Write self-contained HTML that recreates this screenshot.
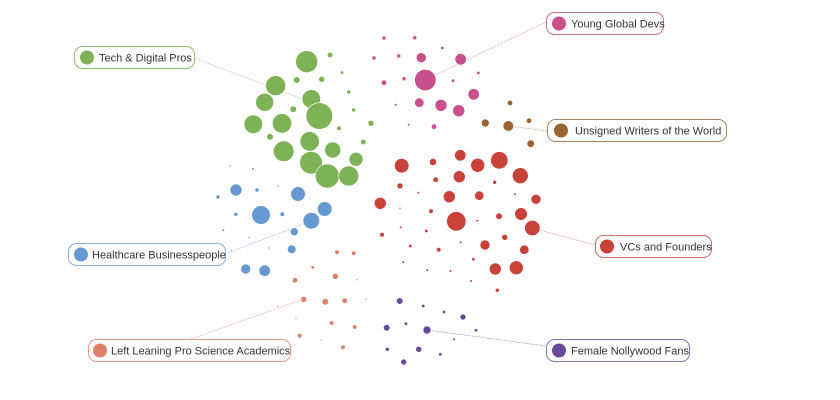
<!DOCTYPE html>
<html><head><meta charset="utf-8"><style>
html,body{margin:0;padding:0;background:#fff;width:840px;height:400px;overflow:hidden}
svg{display:block}
text{font-family:"Liberation Sans",sans-serif;font-size:11px;fill:#333}
</style></head><body>
<svg width="840" height="400" viewBox="0 0 840 400" xmlns="http://www.w3.org/2000/svg">
<g stroke-width="0.8" fill="none" stroke-dasharray="1.5 1">
<line x1="194" y1="58" x2="308" y2="101" stroke="#b5d39e"/>
<line x1="425" y1="80" x2="546" y2="22" stroke="#e0a3c2"/>
<line x1="508" y1="126" x2="547" y2="131" stroke="#c9a888"/>
<line x1="532" y1="228" x2="595" y2="245" stroke="#e39a94"/>
<line x1="225" y1="254" x2="311" y2="221" stroke="#a6c2e6"/>
<line x1="188" y1="340" x2="304" y2="299" stroke="#eeab9c"/>
<line x1="427" y1="330" x2="546" y2="346" stroke="#a795c6"/>
</g>
<g fill="#7db356" stroke="#fff" stroke-width="0.6">
<circle cx="306.7" cy="61.7" r="11"/><circle cx="330" cy="55" r="2.7"/><circle cx="275.7" cy="85.7" r="10"/><circle cx="296.7" cy="80" r="3.3"/><circle cx="321.7" cy="79.3" r="3"/><circle cx="342" cy="72.7" r="1.7"/><circle cx="264.7" cy="102.3" r="9"/><circle cx="311.3" cy="99" r="9.3"/><circle cx="319.3" cy="116" r="13.3"/><circle cx="293.3" cy="109.3" r="3.3"/><circle cx="348.7" cy="92" r="2"/><circle cx="353.7" cy="110" r="2"/><circle cx="253.3" cy="124.3" r="9.3"/><circle cx="282" cy="123.3" r="9.7"/><circle cx="339" cy="128.3" r="2.3"/><circle cx="371" cy="123.3" r="3"/><circle cx="270" cy="136.7" r="3.3"/><circle cx="309.7" cy="141.3" r="9.7"/><circle cx="283.7" cy="151.3" r="10.3"/><circle cx="332.7" cy="150" r="8"/><circle cx="363.3" cy="142" r="2.7"/><circle cx="311" cy="162.7" r="11.3"/><circle cx="356" cy="159.3" r="7"/><circle cx="327.3" cy="176" r="12"/><circle cx="348.7" cy="176" r="10"/>
</g>
<g fill="#6699d1" stroke="#fff" stroke-width="0.6">
<circle cx="230" cy="166" r="1"/><circle cx="253" cy="169" r="1.3"/><circle cx="236" cy="190" r="6"/><circle cx="257" cy="190" r="2"/><circle cx="278" cy="186" r="1"/><circle cx="218" cy="197" r="2"/><circle cx="298" cy="194" r="7.3"/><circle cx="324.7" cy="209" r="7.3"/><circle cx="261" cy="215" r="9.3"/><circle cx="235.7" cy="214.3" r="2"/><circle cx="282.3" cy="214.3" r="2.3"/><circle cx="311.3" cy="220.7" r="8.3"/><circle cx="223.3" cy="230.3" r="1.3"/><circle cx="294.3" cy="231.7" r="4"/><circle cx="249.3" cy="237.7" r="1"/><circle cx="268.7" cy="248" r="1"/><circle cx="231.3" cy="251" r="1"/><circle cx="291.7" cy="249.3" r="4.3"/><circle cx="245.7" cy="269" r="5"/><circle cx="264.7" cy="270.7" r="5.7"/>
</g>
<g fill="#e07f68" stroke="#fff" stroke-width="0.6">
<circle cx="337" cy="252.3" r="2.3"/><circle cx="353.7" cy="253.3" r="2.3"/><circle cx="312.7" cy="267.3" r="1.7"/><circle cx="335.3" cy="276.3" r="3"/><circle cx="295" cy="280.3" r="2.7"/><circle cx="357" cy="279.7" r="1"/><circle cx="303.7" cy="299.3" r="3"/><circle cx="325.3" cy="301.7" r="3.3"/><circle cx="344.7" cy="300.7" r="2.7"/><circle cx="366" cy="299.3" r="1"/><circle cx="278" cy="306.7" r="1"/><circle cx="296" cy="318.3" r="1"/><circle cx="331.7" cy="323" r="2.3"/><circle cx="354.7" cy="327" r="2.3"/><circle cx="299.7" cy="335.7" r="2.3"/><circle cx="321" cy="340.3" r="1"/><circle cx="343" cy="347.3" r="2.3"/>
</g>
<g fill="#c94f8d" stroke="#fff" stroke-width="0.6">
<circle cx="384" cy="38" r="2"/><circle cx="414.7" cy="37.7" r="2"/><circle cx="442.3" cy="48" r="1.7"/><circle cx="374" cy="58" r="2"/><circle cx="398.7" cy="56" r="2"/><circle cx="421.3" cy="57.7" r="5"/><circle cx="460.7" cy="59.3" r="5.7"/><circle cx="425.3" cy="80" r="10.7"/><circle cx="384" cy="82.7" r="2.7"/><circle cx="404" cy="78.7" r="2"/><circle cx="453" cy="80.7" r="1.7"/><circle cx="478.3" cy="73" r="1.7"/><circle cx="473.7" cy="94.3" r="5.7"/><circle cx="419.3" cy="102.7" r="4.7"/><circle cx="441" cy="105.3" r="6"/><circle cx="458.7" cy="110.7" r="6"/><circle cx="395.7" cy="104.7" r="1.3"/><circle cx="408.7" cy="124.7" r="1.3"/><circle cx="434" cy="126.7" r="2.7"/>
</g>
<g fill="#9a6330" stroke="#fff" stroke-width="0.6">
<circle cx="510" cy="103" r="2.7"/><circle cx="485.3" cy="123" r="4"/><circle cx="508.3" cy="126" r="5.3"/><circle cx="529" cy="120.7" r="2.7"/><circle cx="530.7" cy="143.7" r="3.7"/>
</g>
<g fill="#c8423a" stroke="#fff" stroke-width="0.6">
<circle cx="460.3" cy="155.3" r="5.7"/><circle cx="499.3" cy="160.3" r="8.7"/><circle cx="401.7" cy="165.7" r="7.3"/><circle cx="433" cy="162" r="3.7"/><circle cx="477.7" cy="165.3" r="7"/><circle cx="459.3" cy="176.7" r="6"/><circle cx="520.3" cy="175.7" r="8"/><circle cx="435.7" cy="179.7" r="2.7"/><circle cx="494.7" cy="182.3" r="2"/><circle cx="400" cy="186" r="3"/><circle cx="418.3" cy="192.7" r="1.3"/><circle cx="449.3" cy="196.7" r="6"/><circle cx="479.3" cy="195.7" r="4.7"/><circle cx="515" cy="194.3" r="1.3"/><circle cx="536" cy="199.3" r="5"/><circle cx="380.3" cy="203.3" r="6"/><circle cx="400" cy="208.3" r="1"/><circle cx="431" cy="211.3" r="2.3"/><circle cx="456.3" cy="221.3" r="9.7"/><circle cx="477.3" cy="220.7" r="1.3"/><circle cx="499" cy="216.3" r="3.3"/><circle cx="521" cy="214" r="6.3"/><circle cx="532.3" cy="228" r="7.7"/><circle cx="400.7" cy="227.3" r="1.3"/><circle cx="426.3" cy="231" r="1.7"/><circle cx="382" cy="234.7" r="2.3"/><circle cx="504.7" cy="237.3" r="3"/><circle cx="410.3" cy="246" r="1.7"/><circle cx="438.7" cy="249.7" r="2.3"/><circle cx="460.7" cy="242.3" r="1.3"/><circle cx="485" cy="245" r="5"/><circle cx="524.3" cy="249.7" r="4.7"/><circle cx="473.3" cy="259.3" r="1.7"/><circle cx="403.3" cy="262.3" r="1.3"/><circle cx="495.3" cy="269" r="6"/><circle cx="516.3" cy="267.7" r="7"/><circle cx="427.3" cy="270.3" r="1.3"/><circle cx="450.3" cy="271" r="1.3"/><circle cx="471" cy="281" r="1.3"/><circle cx="497.3" cy="290.3" r="2"/>
</g>
<g fill="#6a4a98" stroke="#fff" stroke-width="0.6">
<circle cx="399.7" cy="301" r="3.3"/><circle cx="423.3" cy="306" r="1.7"/><circle cx="444" cy="312" r="1.7"/><circle cx="463" cy="317" r="3"/><circle cx="386.7" cy="327.7" r="3.3"/><circle cx="406" cy="323.7" r="1.7"/><circle cx="427" cy="330" r="4"/><circle cx="476" cy="330.3" r="1.7"/><circle cx="454" cy="339.3" r="1.3"/><circle cx="387.3" cy="349.3" r="2"/><circle cx="418.7" cy="349.3" r="3"/><circle cx="440.3" cy="354.3" r="1.7"/><circle cx="403.7" cy="362" r="3"/>
</g>
<g fill="#fff" stroke-width="1">
<rect x="74.5" y="46.5" width="120" height="22" rx="8" stroke="#8fbf6a"/>
<rect x="546.5" y="12.5" width="117" height="22" rx="8" stroke="#d06ea0"/>
<rect x="547.5" y="119.5" width="179" height="22" rx="8" stroke="#a88363"/>
<rect x="595.5" y="235.5" width="116" height="22" rx="8" stroke="#d56d66"/>
<rect x="68.5" y="243.5" width="157" height="22" rx="8" stroke="#86aedc"/>
<rect x="88.5" y="339.5" width="202" height="22" rx="8" stroke="#e39a88"/>
<rect x="546.5" y="339.5" width="143" height="22" rx="8" stroke="#8a72b2"/>
</g>
<circle cx="87" cy="57.5" r="7" fill="#7db356"/>
<circle cx="559" cy="23.5" r="7" fill="#c94f8d"/>
<circle cx="561" cy="130.5" r="7" fill="#9a6330"/>
<circle cx="607" cy="246.5" r="7" fill="#c8423a"/>
<circle cx="81" cy="254.5" r="7" fill="#6699d1"/>
<circle cx="100" cy="350.5" r="7" fill="#e07f68"/>
<circle cx="559" cy="350.5" r="7" fill="#6a4a98"/>
<text x="99" y="61.5">Tech &amp; Digital Pros</text>
<text x="571" y="27.5">Young Global Devs</text>
<text x="575" y="134.5">Unsigned Writers of the World</text>
<text x="620" y="250.5">VCs and Founders</text>
<text x="92" y="258.5">Healthcare Businesspeople</text>
<text x="111" y="354.5">Left Leaning Pro Science Academics</text>
<text x="571" y="354.5">Female Nollywood Fans</text>
</svg>
</body></html>
